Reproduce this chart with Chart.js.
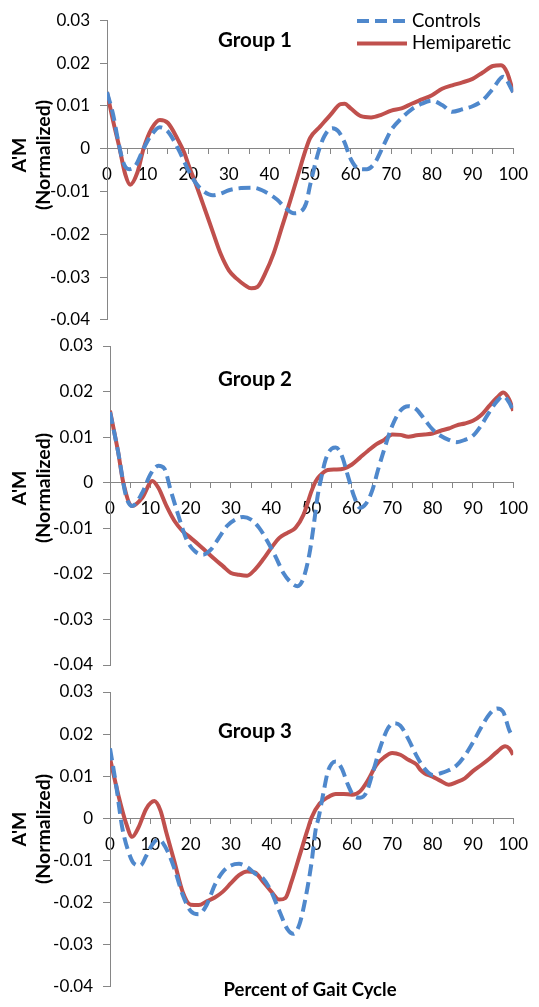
<!DOCTYPE html>
<html>
<head>
<meta charset="utf-8">
<script src="https://cdn.jsdelivr.net/npm/chart.js@4.4.1/dist/chart.umd.min.js"></script>
<style>
html, body { margin: 0; padding: 0; background: #fff; }
#wrap { position: relative; width: 539px; height: 1007px; overflow: hidden; }
#wrap canvas { position: absolute; left: 0; top: 0; }
</style>
</head>
<body>
<div id="wrap">
  <canvas id="c1" width="539" height="1007"></canvas>
  <canvas id="c2" width="539" height="1007"></canvas>
  <canvas id="c3" width="539" height="1007"></canvas>
</div>
<script>
// ---------- data ----------
const seriesNames = ['Controls', 'Hemiparetic'];
const groupTitles = ['Group 1', 'Group 2', 'Group 3'];
const yAxisTitle = ["A'M", '(Normalized)'];
const xAxisTitle = 'Percent of Gait Cycle';

const xTicks = [0, 5, 10, 15, 20, 25, 30, 35, 40, 45, 50, 55, 60, 65, 70, 75, 80, 85, 90, 95, 100];
const xTickLabels = ['0', '', '10', '', '20', '', '30', '', '40', '', '50', '', '60', '', '70', '', '80', '', '90', '', '100'];
const yTicks = [0.03, 0.02, 0.01, 0, -0.01, -0.02, -0.03, -0.04];
const yTickLabels = ['0.03', '0.02', '0.01', '0', '-0.01', '-0.02', '-0.03', '-0.04'];

// Group 1
const g1ControlsX = [0, 1.5, 2.5, 4, 5.5, 7, 9, 11, 13, 15, 17.5, 20, 22, 24, 26, 28, 30, 33, 36, 39, 42, 44, 46, 47.5, 49, 50, 52, 53.5, 55.5, 57, 58.5, 60, 62, 64, 66, 68, 70, 72.5, 75, 77.5, 80, 82.5, 85, 87.5, 90, 92.5, 95, 97.5, 100];
const g1ControlsY = [0.0132, 0.008, 0.003, -0.0032, -0.0048, -0.004, 0, 0.0033, 0.005, 0.004, 0, -0.005, -0.0082, -0.0101, -0.0109, -0.0105, -0.0097, -0.0092, -0.0091, -0.0101, -0.012, -0.0139, -0.0151, -0.0148, -0.0128, -0.0085, -0.0009, 0.0029, 0.0048, 0.004, 0.0014, -0.0024, -0.0047, -0.0048, -0.0032, 0.0006, 0.0044, 0.0071, 0.0092, 0.0105, 0.0112, 0.0102, 0.0086, 0.0092, 0.0099, 0.0113, 0.014, 0.0168, 0.0132];
const g1HemiX = [0, 1.5, 3, 4.5, 5.7, 7.5, 9, 11, 13, 15, 17.5, 19, 20, 22, 24, 26, 28, 30, 32, 34, 35.5, 37, 39, 41, 43, 45, 47, 49, 50, 52.5, 55, 57.5, 58.5, 60, 62.5, 65, 67.5, 70, 72.5, 75, 77.5, 80, 82.5, 85, 87.5, 90, 92.5, 95, 97, 98.5, 100];
const g1HemiY = [0.0132, 0.0065, 0.0005, -0.006, -0.0084, -0.0055, 0, 0.0047, 0.0067, 0.006, 0.002, -0.0009, -0.0036, -0.0086, -0.0139, -0.0193, -0.0246, -0.0284, -0.0304, -0.0319, -0.0326, -0.0323, -0.029, -0.0245, -0.0185, -0.0125, -0.0062, 0, 0.0025, 0.0052, 0.0079, 0.0104, 0.0105, 0.0094, 0.0076, 0.0073, 0.0079, 0.0089, 0.0094, 0.0105, 0.0115, 0.0125, 0.014, 0.0148, 0.0155, 0.0163, 0.0178, 0.0193, 0.0195, 0.0178, 0.0132];

// Group 2
const g2ControlsX = [0, 2, 4, 5.5, 8, 10, 12, 13.5, 15, 17, 19, 21, 23, 25, 27, 29, 31, 33, 35, 37, 39, 41, 43, 45, 46.5, 48, 49.5, 50.5, 51.5, 52.5, 53.5, 55, 56, 57.5, 59, 60.5, 62, 63.5, 65, 66.5, 68, 70, 72, 74, 76, 78, 80, 82, 84, 86, 88, 90, 92, 94, 96, 97.5, 99, 100];
const g2ControlsY = [0.0155, 0.0068, -0.003, -0.0051, -0.0022, 0.0018, 0.0037, 0.0031, -0.0015, -0.0073, -0.0125, -0.015, -0.0158, -0.0147, -0.0121, -0.0095, -0.0081, -0.0075, -0.0081, -0.0099, -0.0128, -0.0161, -0.0198, -0.022, -0.0227, -0.0209, -0.0154, -0.0095, -0.0029, 0.0015, 0.0051, 0.0075, 0.0077, 0.0059, 0.0015, -0.0029, -0.0055, -0.0046, -0.0018, 0.0029, 0.0073, 0.0125, 0.0158, 0.0168, 0.0161, 0.0139, 0.0117, 0.0103, 0.0094, 0.0089, 0.0094, 0.0103, 0.0125, 0.0154, 0.0179, 0.019, 0.0176, 0.0158];
const g2HemiX = [0, 2, 3.3, 5.5, 8, 10.5, 12, 14, 16, 18, 20, 22, 24, 26, 28, 30, 32, 34, 36, 38, 40, 42, 44, 46, 48, 50, 51, 52, 54, 56, 58, 60, 62, 64, 66, 68, 70, 72, 74, 76, 78, 80, 82, 84, 86, 88, 90, 92, 94, 96, 97.5, 99, 100];
const g2HemiY = [0.0158, 0.0068, 0, -0.0051, -0.0033, 0.0004, -0.0011, -0.0051, -0.0084, -0.0106, -0.0121, -0.0136, -0.0152, -0.0168, -0.0183, -0.0198, -0.0202, -0.0204, -0.019, -0.0168, -0.0143, -0.0121, -0.011, -0.0099, -0.007, -0.0018, 0.0003, 0.0015, 0.0028, 0.0029, 0.0031, 0.004, 0.0055, 0.007, 0.0084, 0.0094, 0.0106, 0.0105, 0.0101, 0.0104, 0.0106, 0.0108, 0.0114, 0.0119, 0.0126, 0.013, 0.0136, 0.0148, 0.0168, 0.0187, 0.0198, 0.0183, 0.0158];

// Group 3
const g3ControlsX = [0, 1.5, 3, 4.5, 6, 7.5, 9, 10.5, 12, 14, 16, 18, 20, 22, 24, 26, 28, 30, 32, 34, 36, 38, 40, 42, 44, 45.5, 47, 48.5, 50, 51, 51.7, 53, 54, 55, 56, 57.5, 59, 60.5, 62, 63.5, 65, 67, 69, 70.5, 72, 74, 76, 78, 80, 82, 84, 86, 88, 90, 92, 94, 96, 97.5, 99, 100];
const g3ControlsY = [0.0166, 0.008, -0.002, -0.0077, -0.0108, -0.0112, -0.0089, -0.0062, -0.005, -0.0073, -0.012, -0.0181, -0.022, -0.0228, -0.0205, -0.0158, -0.0127, -0.0112, -0.0108, -0.0116, -0.0131, -0.0143, -0.0174, -0.022, -0.0263, -0.0274, -0.0251, -0.0189, -0.0104, -0.0027, 0, 0.0064, 0.011, 0.013, 0.0135, 0.0118, 0.008, 0.0053, 0.0049, 0.006, 0.0103, 0.0168, 0.0215, 0.0226, 0.022, 0.0188, 0.0149, 0.0118, 0.0103, 0.0107, 0.0114, 0.0126, 0.0149, 0.018, 0.0215, 0.0246, 0.0261, 0.0253, 0.021, 0.0191];
const g3HemiX = [0, 2, 4, 5.5, 7, 9, 11, 12.5, 14, 16, 18, 20, 22, 24, 26, 28, 30, 32, 34, 36, 38, 40, 42, 43.5, 45, 47, 49, 50, 52, 54, 56, 58, 60, 62, 64, 66, 68, 70, 72, 74, 76, 77, 78, 80, 82, 84, 86, 88, 90, 92, 94, 96, 98, 99, 100];
const g3HemiY = [0.0143, 0.0058, -0.0012, -0.0044, -0.0023, 0.0023, 0.0041, 0.0019, -0.0035, -0.0104, -0.0174, -0.0205, -0.0206, -0.0197, -0.0188, -0.0174, -0.0154, -0.0135, -0.0126, -0.0129, -0.0151, -0.0174, -0.0193, -0.0189, -0.0151, -0.0089, -0.0027, 0.0002, 0.0035, 0.005, 0.0058, 0.0058, 0.0056, 0.0064, 0.0091, 0.0126, 0.0145, 0.0155, 0.0151, 0.0139, 0.0128, 0.0115, 0.0107, 0.0099, 0.0089, 0.008, 0.0086, 0.0095, 0.0112, 0.0126, 0.0141, 0.0158, 0.0171, 0.0166, 0.0151];

// ---------- styles ----------
const BLUE = '#4F88CC';
const RED = '#C0504D';
const AXIS = '#868686';
const FONT = 'Lato';

const decorPlugin = {
  id: 'panelDecor',
  afterDraw(chart, args, o) {
    const ctx = chart.ctx;
    ctx.save();
    ctx.fillStyle = '#000';
    ctx.textAlign = 'center';
    ctx.textBaseline = 'middle';
    ctx.font = 'bold 20.5px ' + FONT;
    ctx.fillText(o.title, o.titleX, o.titleY);

    ctx.save();
    ctx.font = 'bold 19.5px ' + FONT;
    ctx.translate(32, o.yTitleY);
    ctx.rotate(-Math.PI / 2);
    ctx.fillText(yAxisTitle[0], 0, -12);
    ctx.fillText(yAxisTitle[1], 0, 12);
    ctx.restore();

    if (o.xTitle) {
      ctx.font = 'bold 18.5px ' + FONT;
      ctx.fillText(o.xTitle, o.xTitleX, o.xTitleY);
    }

    if (o.legend) {
      chart.data.datasets.forEach((ds, i) => {
        const y = 21 + i * 22.5;
        ctx.save();
        ctx.strokeStyle = ds.borderColor;
        ctx.lineWidth = ds.borderWidth;
        ctx.setLineDash(ds.borderDash || []);
        ctx.beginPath();
        ctx.moveTo(357, y);
        ctx.lineTo(407, y);
        ctx.stroke();
        ctx.restore();
        ctx.font = '18.5px ' + FONT;
        ctx.textAlign = 'left';
        ctx.fillText(ds.label, 412, y);
      });
    }
    ctx.restore();
  }
};

function pts(xs, ys) { return xs.map((x, i) => ({ x: x, y: ys[i] })); }

function makePanel(id, idx, cX, cY, hX, hY, box, extra) {
  return new Chart(document.getElementById(id), {
    type: 'line',
    data: {
      datasets: [
        { label: seriesNames[0], data: pts(cX, cY), borderColor: BLUE, borderWidth: 4, borderDash: [12, 6],
          pointRadius: 0, fill: false, cubicInterpolationMode: 'monotone' },
        { label: seriesNames[1], data: pts(hX, hY), borderColor: RED, borderWidth: 4,
          pointRadius: 0, fill: false, cubicInterpolationMode: 'monotone' }
      ]
    },
    options: {
      responsive: false,
      animation: false,
      devicePixelRatio: 1,
      layout: { padding: { left: 0, right: 539 - box.right, top: box.top, bottom: 1007 - box.bottom } },
      plugins: {
        legend: { display: false },
        tooltip: { enabled: false },
        panelDecor: Object.assign({ title: groupTitles[idx], titleX: 255 }, extra)
      },
      scales: {
        x: {
          type: 'linear', min: 0, max: 100, position: { y: 0 },
          afterBuildTicks: s => { s.ticks = xTicks.map(v => ({ value: v })); },
          afterFit: s => { s.height = 0; },
          ticks: { autoSkip: false, maxRotation: 0, padding: 11, color: '#000',
                   font: { family: FONT, size: 17, lineHeight: 1.2 },
                   callback: (v, i) => xTickLabels[i] },
          grid: { drawOnChartArea: false, drawTicks: true, tickLength: 5, color: AXIS, lineWidth: 1 },
          border: { color: AXIS, width: 1 }
        },
        y: {
          type: 'linear', min: -0.04, max: 0.03,
          afterBuildTicks: s => { s.ticks = yTicks.map(v => ({ value: v })); },
          afterFit: s => { s.width = box.left; },
          ticks: { padding: 10, color: '#000', font: { family: FONT, size: 17 },
                   callback: (v, i) => yTickLabels[i] },
          grid: { drawOnChartArea: false, drawTicks: true, tickLength: 7, color: AXIS, lineWidth: 1 },
          border: { color: AXIS, width: 1 }
        }
      }
    },
    plugins: [decorPlugin]
  });
}

makePanel('c1', 0, g1ControlsX, g1ControlsY, g1HemiX, g1HemiY,
  { left: 107, right: 518, top: 15, bottom: 320 },
  { titleY: 40, yTitleY: 155, legend: true });
makePanel('c2', 1, g2ControlsX, g2ControlsY, g2HemiX, g2HemiY,
  { left: 110, right: 518, top: 346, bottom: 665 },
  { titleY: 379, yTitleY: 488 });
makePanel('c3', 2, g3ControlsX, g3ControlsY, g3HemiX, g3HemiY,
  { left: 110, right: 518, top: 692, bottom: 994 },
  { titleY: 731, yTitleY: 829, xTitle: xAxisTitle, xTitleX: 310, xTitleY: 990 });
</script>
</body>
</html>
